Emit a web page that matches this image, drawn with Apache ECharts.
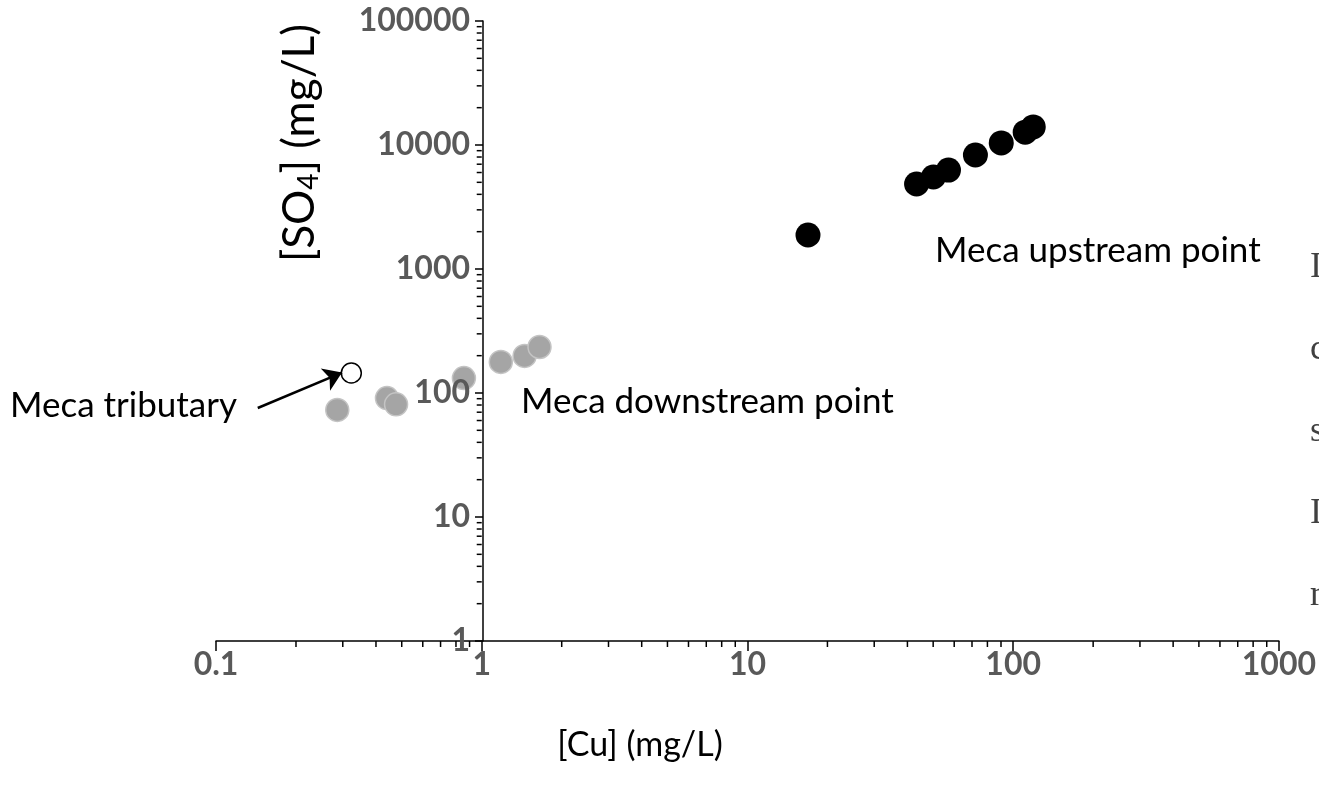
<!DOCTYPE html>
<html>
<head>
<meta charset="utf-8">
<script src="https://cdn.jsdelivr.net/npm/echarts@6/dist/echarts.min.js"></script>
<style>
  html, body { margin: 0; padding: 0; background: #fff; }
  #chart { width: 1319px; height: 796px; }
</style>
</head>
<body>
<div id="chart"></div>
<script>
// [Cu], [SO4] pairs in mg/L
const downstreamPoints = [[0.286, 73], [0.44, 91], [0.476, 81], [0.857, 132], [1.18, 178], [1.45, 199], [1.65, 235]];
const upstreamPoints = [[16.9, 1880], [43.3, 4850], [50.1, 5520], [57.1, 6280], [72.1, 8300], [90.2, 10400], [111, 12700], [119, 14000]];
const tributaryPoints = [[0.323, 145]];
const arrowCoords = [[0.1436, 75.7], [0.298, 146]];

const xTickLabels = ['0.1', '1', '10', '100', '1000'];
const yTickLabels = ['1', '10', '100', '1000', '10000', '100000'];
const xDecades = [0.1, 1, 10, 100];
const yDecades = [1, 10, 100, 1000, 10000];
const minorSteps = [2, 3, 4, 5, 6, 7, 8, 9];

const xMinor = [];
xDecades.forEach(d => minorSteps.forEach(m => xMinor.push([d * m, 1])));
const yMinor = [];
yDecades.forEach(d => minorSteps.forEach(m => yMinor.push([1, d * m])));

// letters of the neighbouring page text, cut by the right edge
const edgeLetters = ['I', 'c', 's', 'I', 'r'];

const font = 'Lato';
const tickLabelStyle = { fontFamily: font, fontWeight: 'bold', fontSize: 32, color: '#595959' };
const noteStyle = { fontFamily: font, fontSize: 35, fill: '#000' };

const chart = echarts.init(document.getElementById('chart'));
chart.setOption({
  animation: false,
  grid: { left: 216, right: 36, top: 21, bottom: 155 },
  xAxis: {
    type: 'log', min: 0.1, max: 1000, logBase: 10,
    axisLine: { lineStyle: { color: '#000', width: 1.5 } },
    axisTick: { length: 10, lineStyle: { color: '#000', width: 1.5 } },
    splitLine: { show: false },
    axisLabel: Object.assign({ margin: 8, formatter: (v, i) => xTickLabels[i] }, tickLabelStyle)
  },
  yAxis: {
    type: 'log', min: 1, max: 100000, logBase: 10,
    offset: -267,
    z: 5,
    axisLine: { lineStyle: { color: '#000', width: 1.5 } },
    axisTick: { length: 8, lineStyle: { color: '#000', width: 1.5 } },
    splitLine: { show: false },
    axisLabel: Object.assign({ margin: 13, formatter: (v, i) => yTickLabels[i] }, tickLabelStyle)
  },
  series: [
    {
      type: 'custom', clip: false, silent: true, data: xMinor,
      renderItem: (params, api) => {
        const p = api.coord([api.value(0), api.value(1)]);
        return { type: 'line', shape: { x1: p[0], y1: p[1], x2: p[0], y2: p[1] + 6 }, style: { stroke: '#000', lineWidth: 1.5 } };
      }
    },
    {
      type: 'custom', clip: false, silent: true, data: yMinor,
      renderItem: (params, api) => {
        const p = api.coord([api.value(0), api.value(1)]);
        return { type: 'line', shape: { x1: p[0], y1: p[1], x2: p[0] - 5, y2: p[1] }, style: { stroke: '#000', lineWidth: 1.5 } };
      }
    },
    {
      name: 'Meca downstream point', type: 'scatter', data: downstreamPoints,
      symbolSize: 23,
      itemStyle: { color: '#a5a5a5', borderColor: '#c4c4c4', borderWidth: 1.5, opacity: 1 }
    },
    {
      name: 'Meca upstream point', type: 'scatter', data: upstreamPoints,
      symbolSize: 25,
      itemStyle: { color: '#000', opacity: 1 }
    },
    {
      name: 'Meca tributary', type: 'scatter', data: tributaryPoints,
      symbolSize: 20,
      itemStyle: { color: '#fff', borderColor: '#000', borderWidth: 1.5, opacity: 1 },
      markLine: {
        silent: true, animation: false,
        symbol: ['none', 'arrow'], symbolSize: 18,
        label: { show: false },
        lineStyle: { color: '#000', width: 2.5, type: 'solid' },
        data: [[{ coord: arrowCoords[0] }, { coord: arrowCoords[1] }]]
      }
    }
  ],
  graphic: [
    { type: 'text', left: 10, top: 388, style: Object.assign({ text: 'Meca tributary' }, noteStyle) },
    { type: 'text', left: 521, top: 384, style: Object.assign({ text: 'Meca downstream point' }, noteStyle) },
    { type: 'text', left: 935, top: 233, style: Object.assign({ text: 'Meca upstream point' }, noteStyle) },
    { type: 'text', x: 640, y: 745, style: { text: '[Cu] (mg/L)', fontFamily: font, fontSize: 34, fill: '#000', align: 'center', verticalAlign: 'middle' } },
    {
      type: 'text', x: 300, y: 143, rotation: Math.PI / 2,
      style: {
        text: '{a|[SO}{b|4}{a|] (mg/L)}', align: 'center', verticalAlign: 'middle',
        rich: {
          a: { fontFamily: font, fontSize: 44, fill: '#000', lineHeight: 50 },
          b: { fontFamily: font, fontSize: 28, fill: '#000', lineHeight: 50, padding: [18, 0, 0, 0] }
        }
      }
    }
  ].concat(edgeLetters.map((ch, i) => ({
    type: 'text', x: 1310, y: 268 + i * 82,
    style: { text: ch, fontFamily: 'Liberation Serif', fontSize: 36, fill: '#404040', verticalAlign: 'middle' }
  })))
});
</script>
</body>
</html>
